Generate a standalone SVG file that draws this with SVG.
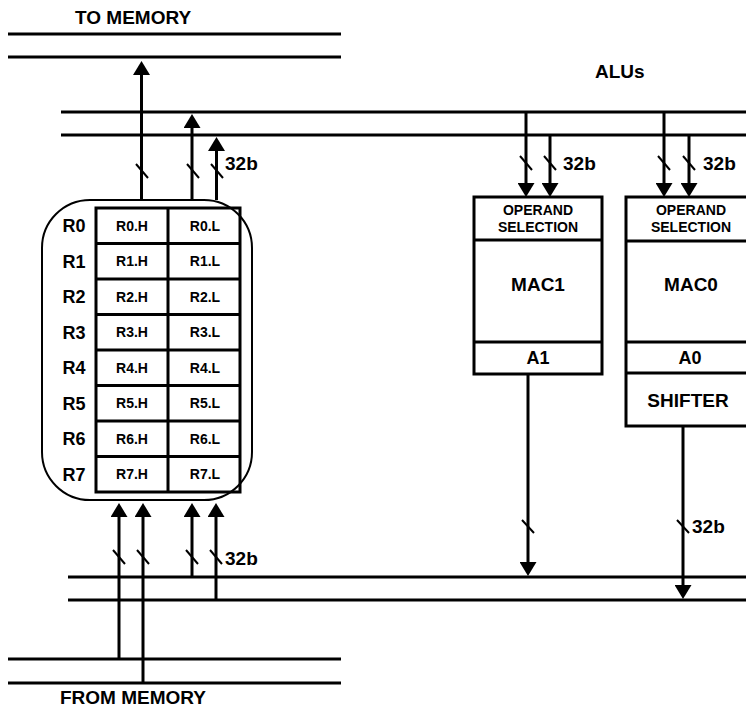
<svg xmlns="http://www.w3.org/2000/svg" width="746" height="707" viewBox="0 0 746 707">
<style>
text{font-family:"Liberation Sans",Arial,sans-serif;font-weight:bold;fill:#000}
.big{font-size:19px}
.mid{font-size:18px}
.sm{font-size:14px}
.op{font-size:14px}
.bus{stroke:#000;stroke-width:3;fill:none}
.w{stroke:#000;stroke-width:3;fill:none}
.tick{stroke:#000;stroke-width:2;fill:none}
.box{stroke:#000;stroke-width:3;fill:#fff}
.c{text-anchor:middle}
</style>
<defs>
<marker id="ah" viewBox="0 0 14 17" refX="10" refY="8.5" markerWidth="14" markerHeight="17" markerUnits="userSpaceOnUse" orient="auto">
<path d="M0,0 L14,8.5 L0,17 Z" fill="#000"/>
</marker>
</defs>

<g id="buses">
<line class="bus" x1="8" y1="34" x2="341" y2="34"/>
<line class="bus" x1="8" y1="57" x2="341" y2="57"/>
<line class="bus" x1="61" y1="112" x2="746" y2="112"/>
<line class="bus" x1="61" y1="135" x2="746" y2="135"/>
<line class="bus" x1="68" y1="577" x2="746" y2="577"/>
<line class="bus" x1="68" y1="600" x2="746" y2="600"/>
<line class="bus" x1="8" y1="659" x2="341" y2="659"/>
<line class="bus" x1="8" y1="683" x2="341" y2="683"/>
</g>

<g id="labels">
<text class="big" x="75" y="24">TO MEMORY</text>
<text class="big" x="595" y="78">ALUs</text>
<text class="big" x="60" y="704">FROM MEMORY</text>
</g>

<g id="registers">
<rect x="42" y="200" width="210" height="300" rx="48" ry="48" fill="#fff" stroke="#000" stroke-width="2"/>
<rect x="96" y="208" width="144" height="284" fill="none" stroke="#000" stroke-width="3"/>
<line class="w" x1="168" y1="208" x2="168" y2="492"/>
<line class="w" x1="96" y1="243.5" x2="240" y2="243.5"/>
<line class="w" x1="96" y1="279" x2="240" y2="279"/>
<line class="w" x1="96" y1="314.5" x2="240" y2="314.5"/>
<line class="w" x1="96" y1="350" x2="240" y2="350"/>
<line class="w" x1="96" y1="385.5" x2="240" y2="385.5"/>
<line class="w" x1="96" y1="421" x2="240" y2="421"/>
<line class="w" x1="96" y1="456.5" x2="240" y2="456.5"/>
<text class="mid c" x="74" y="232">R0</text>
<text class="mid c" x="74" y="267.5">R1</text>
<text class="mid c" x="74" y="303">R2</text>
<text class="mid c" x="74" y="338.5">R3</text>
<text class="mid c" x="74" y="374">R4</text>
<text class="mid c" x="74" y="409.5">R5</text>
<text class="mid c" x="74" y="445">R6</text>
<text class="mid c" x="74" y="480.5">R7</text>
<text class="sm c" x="132" y="230.5">R0.H</text><text class="sm c" x="205" y="230.5">R0.L</text>
<text class="sm c" x="132" y="266">R1.H</text><text class="sm c" x="205" y="266">R1.L</text>
<text class="sm c" x="132" y="301.5">R2.H</text><text class="sm c" x="205" y="301.5">R2.L</text>
<text class="sm c" x="132" y="337">R3.H</text><text class="sm c" x="205" y="337">R3.L</text>
<text class="sm c" x="132" y="372.5">R4.H</text><text class="sm c" x="205" y="372.5">R4.L</text>
<text class="sm c" x="132" y="408">R5.H</text><text class="sm c" x="205" y="408">R5.L</text>
<text class="sm c" x="132" y="443.5">R6.H</text><text class="sm c" x="205" y="443.5">R6.L</text>
<text class="sm c" x="132" y="479">R7.H</text><text class="sm c" x="205" y="479">R7.L</text>
</g>

<g id="mac1">
<rect class="box" x="474" y="197" width="128" height="177"/>
<line class="w" x1="474" y1="240" x2="602" y2="240"/>
<line class="w" x1="474" y1="342" x2="602" y2="342"/>
<text class="op c" x="538" y="215">OPERAND</text>
<text class="op c" x="538" y="232">SELECTION</text>
<text class="big c" x="538" y="291">MAC1</text>
<text class="mid c" x="538" y="364">A1</text>
</g>

<g id="mac0">
<rect class="box" x="626" y="197" width="140" height="229"/>
<line class="w" x1="626" y1="241" x2="766" y2="241"/>
<line class="w" x1="626" y1="342" x2="766" y2="342"/>
<line class="w" x1="626" y1="373" x2="766" y2="373"/>
<text class="op c" x="691" y="215">OPERAND</text>
<text class="op c" x="691" y="232">SELECTION</text>
<text class="big c" x="691" y="291">MAC0</text>
<text class="mid c" x="690" y="364">A0</text>
<text class="big c" x="688" y="407">SHIFTER</text>
</g>

<g id="connectors">
<line class="w" x1="141.5" y1="200" x2="141.5" y2="65" marker-end="url(#ah)"/>
<line class="w" x1="192" y1="200" x2="192" y2="118" marker-end="url(#ah)"/>
<line class="w" x1="216.5" y1="200" x2="216.5" y2="141" marker-end="url(#ah)"/>
<line class="w" x1="526" y1="112" x2="526" y2="193" marker-end="url(#ah)"/>
<line class="w" x1="550" y1="135" x2="550" y2="193" marker-end="url(#ah)"/>
<line class="w" x1="664" y1="112" x2="664" y2="193" marker-end="url(#ah)"/>
<line class="w" x1="689" y1="135" x2="689" y2="193" marker-end="url(#ah)"/>
<line class="w" x1="528" y1="374" x2="528" y2="572" marker-end="url(#ah)"/>
<line class="w" x1="683" y1="426" x2="683" y2="595" marker-end="url(#ah)"/>
<line class="w" x1="119" y1="659" x2="119" y2="507" marker-end="url(#ah)"/>
<line class="w" x1="143" y1="683" x2="143" y2="507" marker-end="url(#ah)"/>
<line class="w" x1="192" y1="577" x2="192" y2="507" marker-end="url(#ah)"/>
<line class="w" x1="216" y1="600" x2="216" y2="507" marker-end="url(#ah)"/>
</g>

<g id="ticks">
<path class="tick" d="M136,164 l12,14 M187,164 l12,14 M211,164 l12,14"/>
<path class="tick" d="M520,156 l12,14 M544,156 l12,14 M658,156 l12,14 M683,156 l12,14"/>
<path class="tick" d="M522,520 l12,13 M677,520 l12,13"/>
<path class="tick" d="M113,550 l12,14 M137,550 l12,14 M186,550 l12,14 M210,550 l12,14"/>
</g>

<g id="widths">
<text class="big" x="225" y="170">32b</text>
<text class="big" x="563" y="170">32b</text>
<text class="big" x="703" y="170">32b</text>
<text class="big" x="692" y="533">32b</text>
<text class="big" x="225" y="565">32b</text>
</g>
</svg>
